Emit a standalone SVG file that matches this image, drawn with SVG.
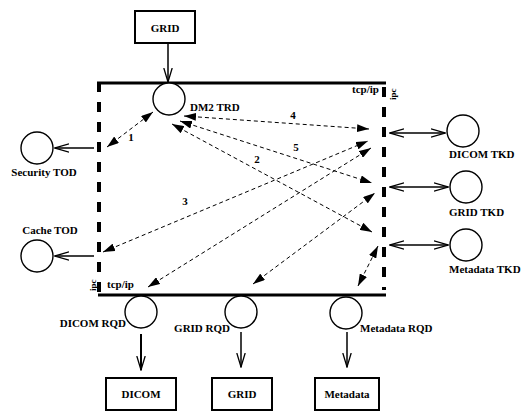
<svg xmlns="http://www.w3.org/2000/svg" width="523" height="412" viewBox="0 0 523 412">
<defs>
<style>
text{font-family:"Liberation Serif","Times New Roman",serif;font-weight:bold;font-size:11px;fill:#000}
.small{font-size:9px}
.mid{text-anchor:middle}
.end{text-anchor:end}
.box{fill:#fff;stroke:#000;stroke-width:2}
.node{fill:#fff;stroke:#000;stroke-width:1.4}
.frame{stroke:#000;stroke-width:3;fill:none}
.side{stroke:#000;stroke-width:4;fill:none;stroke-dasharray:10 10}
.solid{stroke:#000;stroke-width:1.5;fill:none;marker-end:url(#open)}
.dbl{stroke:#000;stroke-width:1.5;fill:none;marker-end:url(#open);marker-start:url(#open)}
.dash{stroke:#000;stroke-width:1;fill:none;stroke-dasharray:4 3;marker-end:url(#fill);marker-start:url(#fill)}
</style>
<marker id="open" viewBox="0 0 15 10" refX="14" refY="5" markerWidth="15" markerHeight="10" markerUnits="userSpaceOnUse" orient="auto-start-reverse">
<path d="M0,0.8 L14,5 L0,9.2" fill="none" stroke="#000" stroke-width="1.3"/>
</marker>
<marker id="fill" viewBox="0 0 12 8" refX="12" refY="4" markerWidth="12" markerHeight="8" markerUnits="userSpaceOnUse" orient="auto-start-reverse">
<path d="M0,0 L12,4 L0,8 z" fill="#000"/>
</marker>
</defs>

<g id="frame">
<line class="frame" x1="97" y1="83" x2="386" y2="83"/>
<line class="frame" x1="98" y1="295" x2="386" y2="295"/>
<line class="side" x1="99" y1="82" x2="99" y2="295"/>
<line class="side" x1="384" y1="87" x2="384" y2="290"/>
<text x="352" y="93">tcp/ip</text>
<text class="small" transform="translate(396,100) rotate(-90)">ipc</text>
<text x="107" y="288">tcp/ip</text>
<text class="small" transform="translate(96,291) rotate(-90)">ipc</text>
</g>

<g id="grid-top">
<rect class="box" x="135" y="11" width="60" height="32"/>
<text class="mid" x="165" y="32">GRID</text>
</g>
<g id="dm2-trd">
<circle class="node" cx="169" cy="99" r="16"/>
<text x="190" y="111">DM2 TRD</text>
</g>
<g id="security-tod">
<circle class="node" cx="37" cy="148" r="16"/>
<text class="mid" x="44" y="176">Security TOD</text>
</g>
<g id="cache-tod">
<circle class="node" cx="37" cy="256" r="16"/>
<text class="mid" x="50" y="234">Cache TOD</text>
</g>
<g id="dicom-tkd">
<circle class="node" cx="463" cy="131" r="16"/>
<text x="449" y="158">DICOM TKD</text>
</g>
<g id="grid-tkd">
<circle class="node" cx="466" cy="187" r="16"/>
<text x="449" y="216">GRID TKD</text>
</g>
<g id="metadata-tkd">
<circle class="node" cx="466" cy="245" r="16"/>
<text x="449" y="273">Metadata TKD</text>
</g>
<g id="dicom-rqd">
<circle class="node" cx="141" cy="312" r="16"/>
<text class="end" x="126" y="327">DICOM RQD</text>
</g>
<g id="grid-rqd">
<circle class="node" cx="241" cy="312" r="16"/>
<text class="end" x="230" y="332">GRID RQD</text>
</g>
<g id="metadata-rqd">
<circle class="node" cx="346" cy="313" r="16"/>
<text x="360" y="332">Metadata RQD</text>
</g>
<g id="dicom-box">
<rect class="box" x="106" y="378" width="70" height="32"/>
<text class="mid" x="141" y="398">DICOM</text>
</g>
<g id="grid-box">
<rect class="box" x="212" y="378" width="60" height="32"/>
<text class="mid" x="242" y="398">GRID</text>
</g>
<g id="metadata-box">
<rect class="box" x="315" y="378" width="64" height="32"/>
<text class="mid" x="347" y="398">Metadata</text>
</g>

<g id="connectors">
<line class="solid" x1="168" y1="43" x2="168" y2="82"/>
<line class="solid" x1="94" y1="148" x2="55" y2="148"/>
<line class="solid" x1="94" y1="256" x2="55" y2="256"/>
<line class="dbl" x1="390" y1="133" x2="445" y2="133"/>
<line class="dbl" x1="390" y1="187" x2="448" y2="187"/>
<line class="dbl" x1="390" y1="245" x2="448" y2="245"/>
<line class="solid" x1="141" y1="334" x2="141" y2="370" style="stroke-width:2"/>
<line class="solid" x1="241" y1="332" x2="241" y2="367"/>
<line class="solid" x1="347" y1="332" x2="347" y2="367"/>

<line class="dash" x1="107" y1="147" x2="153" y2="112"/>
<line class="dash" x1="172" y1="124" x2="372" y2="232"/>
<line class="dash" x1="184" y1="116" x2="369" y2="129"/>
<line class="dash" x1="180" y1="121" x2="372" y2="183"/>
<line class="dash" x1="103" y1="252" x2="368" y2="141"/>
<line class="dash" x1="148" y1="287" x2="371" y2="148"/>
<line class="dash" x1="253" y1="284" x2="375" y2="193"/>
<line class="dash" x1="358" y1="286" x2="378" y2="246"/>
<text class="mid" x="131" y="141">1</text>
<text class="mid" x="257" y="163">2</text>
<text class="mid" x="185" y="205">3</text>
<text class="mid" x="293" y="119">4</text>
<text class="mid" x="296" y="151">5</text>
</g>
</svg>
